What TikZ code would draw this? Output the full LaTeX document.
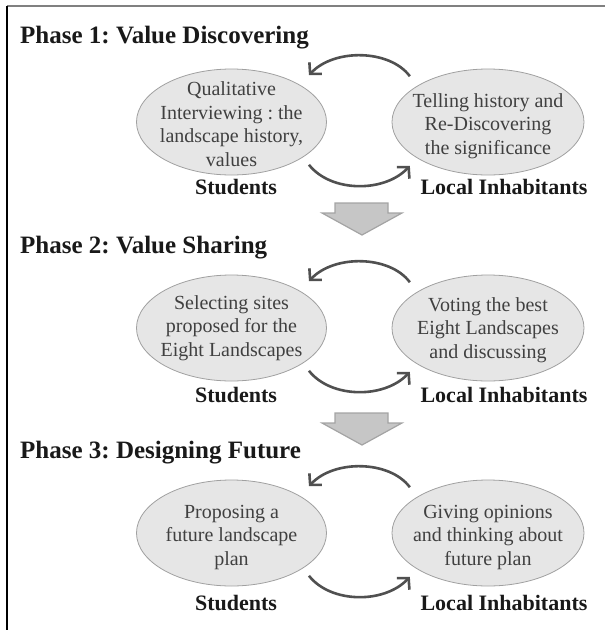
\documentclass[tikz,border=0pt]{standalone}
\usepackage{fontspec}
\setmainfont{Liberation Serif}
\usetikzlibrary{shapes.geometric,arrows.meta}
\frenchspacing
\definecolor{ellfill}{HTML}{E6E6E6}
\definecolor{elldraw}{HTML}{A0A0A0}
\definecolor{txtgray}{HTML}{404040}
\definecolor{arrgray}{HTML}{505050}
\definecolor{blkfill}{HTML}{C6C6C6}
\definecolor{blkdraw}{HTML}{A4A4A4}
\tikzset{
  ell/.style={ellipse, draw=elldraw, fill=ellfill, line width=0.8pt, minimum width=190pt, minimum height=106pt, inner sep=0pt},
  etext/.style={align=center, font=\fontsize{20}{23.5}\selectfont, text=txtgray, inner sep=0pt},
  who/.style={font=\fontsize{22}{24}\selectfont\bfseries, text=black!90, inner sep=0pt},
  phase/.style={anchor=base west, font=\fontsize{25}{28}\selectfont\bfseries, text=black!90, inner sep=0pt},
  cyc/.style={draw=arrgray, line width=2.6pt, -{Straight Barb[length=8pt,width=17pt]}},
  blockarrow/.style={fill=blkfill, draw=blkdraw, line width=1.2pt, line join=miter}
}
\begin{document}
\frenchspacing
\begin{tikzpicture}[x=1pt,y=-1pt]
\useasboundingbox (0,0) rectangle (611,630);
% frame
\draw[gray, line width=1.6pt] (7,6) -- (605,6);
\draw[black, line width=1.8pt] (7,6) -- (7,630);

% Phase 1
\node[phase] (t1) at (20,43) {Phase 1: Value Discovering};
\node[ell] (l1) at (231.5,122) {};
\node[ell, minimum width=192pt] (r1) at (488,122) {};
\node[etext] (lt1) at (231.5,124) {Qualitative\\Interviewing : the\\landscape history,\\values};
\node[etext] (rt1) at (488,126) {Telling history and\\Re-Discovering\\the significance};
\node[who] (s1) at (236,187) {Students};
\node[who] (i1) at (504,187) {Local Inhabitants};
\draw[cyc] ([shift={(-10,-8)}]r1.north west) .. controls +(-20,-27) and +(25,-27) .. ([shift={(10,-9)}]l1.north east);
\draw[cyc] ([shift={(10,5)}]l1.south east) .. controls +(22,28) and +(-25,27) .. ([shift={(-10,6)}]r1.south west);
\draw[blockarrow] (335,203) -- (388,203) -- (388,213) -- (402,213) -- (362,235) -- (322,213) -- (335,213) -- cycle;

% Phase 2
\node[phase] (t2) at (20,253) {Phase 2: Value Sharing};
\node[ell] (l2) at (231.5,328) {};
\node[ell, minimum width=192pt] (r2) at (488,328) {};
\node[etext] (lt2) at (231.5,328) {Selecting sites\\proposed for the\\Eight Landscapes};
\node[etext] (rt2) at (488,330) {Voting the best\\Eight Landscapes\\and discussing};
\node[who] (s2) at (236,395) {Students};
\node[who] (i2) at (504,395) {Local Inhabitants};
\draw[cyc] ([shift={(-10,-8)}]r2.north west) .. controls +(-20,-27) and +(25,-27) .. ([shift={(10,-9)}]l2.north east);
\draw[cyc] ([shift={(10,5)}]l2.south east) .. controls +(22,28) and +(-25,27) .. ([shift={(-10,6)}]r2.south west);
\draw[blockarrow] (335,413) -- (388,413) -- (388,423) -- (402,423) -- (362,445) -- (322,423) -- (335,423) -- cycle;

% Phase 3
\node[phase] (t3) at (20,458) {Phase 3: Designing Future};
\node[ell] (l3) at (231.5,533) {};
\node[ell, minimum width=192pt] (r3) at (488,533) {};
\node[etext] (lt3) at (231.5,537) {Proposing a\\future landscape\\plan};
\node[etext] (rt3) at (488,537) {Giving opinions\\and thinking about\\future plan};
\node[who] (s3) at (236,603) {Students};
\node[who] (i3) at (504,603) {Local Inhabitants};
\draw[cyc] ([shift={(-10,-8)}]r3.north west) .. controls +(-20,-27) and +(25,-27) .. ([shift={(10,-9)}]l3.north east);
\draw[cyc] ([shift={(10,5)}]l3.south east) .. controls +(22,28) and +(-25,27) .. ([shift={(-10,6)}]r3.south west);
\end{tikzpicture}
\end{document}
